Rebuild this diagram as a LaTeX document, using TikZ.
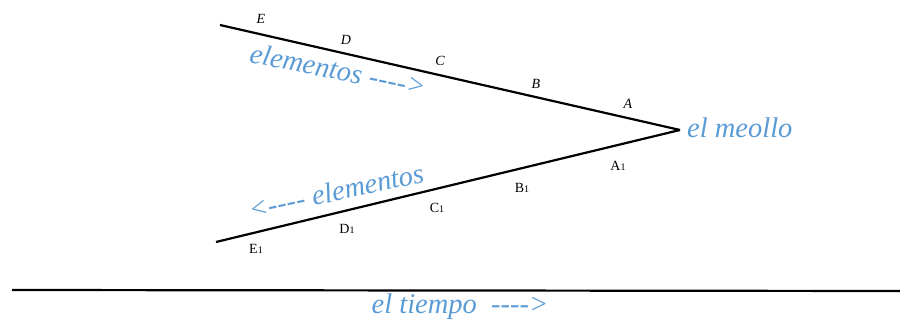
\documentclass[tikz,border=0pt]{standalone}
\usepackage{fontspec}
\setmainfont{Liberation Serif}
\definecolor{blu}{HTML}{5B9BD5}
\newcommand{\dsh}{-\kern0pt-\kern0pt-\kern0pt-\kern0pt>}
\begin{document}
\begin{tikzpicture}[x=1pt,y=-1pt,
  lbl/.style={font=\fontsize{14}{14}\selectfont\itshape, inner sep=0pt},
  lblone/.style={font=\fontsize{14}{14}\selectfont, inner sep=0pt},
  bluetext/.style={font=\fontsize{28.5}{28.5}\selectfont\itshape, text=blu, inner sep=0pt},
  edge/.style={line width=2.2pt, black}]
\useasboundingbox (0,0) rectangle (900,320);
\coordinate (tip) at (680,130);
\coordinate (ue) at (220,25);
\coordinate (le) at (216,242);
\coordinate (t0) at (12,290);
\coordinate (t1) at (900,291);
\draw[edge] (ue) -- (tip);
\draw[edge] (le) -- (tip);
\draw[edge] (t0) -- (t1);
% upper labels
\node[lbl] (E) at (261,19) {E};
\node[lbl] (D) at (346,40) {D};
\node[lbl] (C) at (440,61) {C};
\node[lbl] (B) at (536,84) {B};
\node[lbl] (A) at (628,104) {A};
% lower labels
\node[lblone] (A1) at (618,166) {A{\fontsize{10}{10}\selectfont 1}};
\node[lblone] (B1) at (522,188) {B{\fontsize{10}{10}\selectfont 1}};
\node[lblone] (C1) at (437,208) {C{\fontsize{10}{10}\selectfont 1}};
\node[lblone] (D1) at (347,229) {D{\fontsize{10}{10}\selectfont 1}};
\node[lblone] (E1) at (256,249) {E{\fontsize{10}{10}\selectfont 1}};
% blue texts
\node[bluetext, anchor=west] (meollo) at (687,128) {el meollo};
\node[bluetext, rotate=-11] (elup) at (338,70) {elementos \dsh};
\node[bluetext, rotate=12] (ellow) at (336,191) {<\kern0pt-\kern0pt-\kern0pt-\kern0pt- elementos};
\node[bluetext] (tiempo) at (460,307) {el tiempo\ \ \dsh};
\end{tikzpicture}
\end{document}
